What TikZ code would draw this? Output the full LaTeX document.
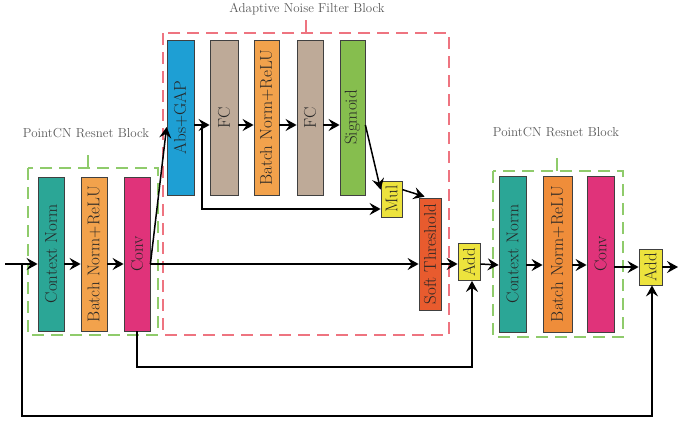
\documentclass[tikz,border=0pt]{standalone}
\usetikzlibrary{arrows.meta,calc}
\definecolor{cteal}{HTML}{2BA696}
\definecolor{corangeA}{HTML}{F2A24C}
\definecolor{corangeB}{HTML}{EF8D3A}
\definecolor{cconv}{HTML}{E0337A}
\definecolor{cblue}{HTML}{1E9FD4}
\definecolor{cfc}{HTML}{BEAA98}
\definecolor{csig}{HTML}{86BE4E}
\definecolor{cyel}{HTML}{EDE33D}
\definecolor{csoft}{HTML}{E85B2E}
\definecolor{gdash}{HTML}{8FCB6B}
\definecolor{rdash}{HTML}{EE7480}
\begin{document}
\begin{tikzpicture}[x=1pt,y=-1pt,
  blk/.style={draw=black!75,line width=0.8pt,inner sep=0pt,text=black!85,font=\fontsize{17}{20}\selectfont},
  tall/.style={minimum height=155pt},
  arr/.style={line width=1.5pt,-{Stealth[length=11pt,width=12pt,inset=4pt]}},
  gbox/.style={color=gdash,line width=1.1pt,dash pattern=on 12pt off 7pt},
  rbox/.style={color=rdash,line width=1.1pt,dash pattern=on 12pt off 7pt},
  gtick/.style={color=gdash,line width=1.1pt},
  rtick/.style={color=rdash,line width=1.1pt},
  lbl/.style={text=black!65,font=\fontsize{13}{15}\selectfont}
]
\useasboundingbox (0,0) rectangle (678,421);

% dashed group boxes
\draw[gbox] (28,168) rectangle (158,335);
\draw[gtick] (88,155) -- (88,168);
\draw[rbox] (163,33) rectangle (449,335);
\draw[rtick] (306,20) -- (306,33);
\draw[gbox] (493,171) rectangle (623,337);
\draw[gtick] (557,158) -- (557,171);

% labels
\node[lbl] (lblL) at (86,133) {PointCN Resnet Block};
\node[lbl] (lblA) at (307,9) {Adaptive Noise Filter Block};
\node[lbl] (lblR) at (556,132) {PointCN Resnet Block};

% left resnet block
\node[blk,fill=cteal,minimum width=26pt,minimum height=154pt] (cn1) at (51,254) {\rotatebox{90}{Context Norm}};
\node[blk,fill=corangeA,minimum width=26pt,minimum height=154pt] (bn1) at (94,254) {\rotatebox{90}{Batch Norm+ReLU}};
\node[blk,fill=cconv,minimum width=26pt,minimum height=154pt] (conv1) at (137,254) {\rotatebox{90}{Conv}};

% adaptive noise filter block
\node[blk,tall,fill=cblue,minimum width=27pt] (abs) at (180.5,117.5) {\rotatebox{90}{Abs+GAP}};
\node[blk,tall,fill=cfc,minimum width=28pt] (fc1) at (224,117.5) {\rotatebox{90}{FC}};
\node[blk,tall,fill=corangeA,minimum width=25pt] (bnA) at (266.5,117.5) {\rotatebox{90}{Batch Norm+ReLU}};
\node[blk,tall,fill=cfc,minimum width=26pt] (fc2) at (310,117.5) {\rotatebox{90}{FC}};
\node[blk,tall,fill=csig,minimum width=25pt] (sig) at (352.5,117.5) {\rotatebox{90}{Sigmoid}};
\node[blk,fill=cyel,minimum width=21pt,minimum height=36pt] (mul) at (391.5,199) {\rotatebox{90}{Mul}};
\node[blk,fill=csoft,minimum width=22pt,minimum height=112pt] (soft) at (430,254) {\rotatebox{90}{Soft Threshold}};
\node[blk,fill=cyel,minimum width=22pt,minimum height=37pt] (add1) at (469,262) {\rotatebox{90}{Add}};

% right resnet block
\node[blk,fill=cteal,minimum width=27pt,minimum height=156pt] (cn2) at (512.5,254) {\rotatebox{90}{Context Norm}};
\node[blk,fill=corangeB,minimum width=29pt,minimum height=156pt] (bn2) at (557.5,254) {\rotatebox{90}{Batch Norm+ReLU}};
\node[blk,fill=cconv,minimum width=27pt,minimum height=156pt] (conv2) at (600.5,254) {\rotatebox{90}{Conv}};
\node[blk,fill=cyel,minimum width=23pt,minimum height=36pt] (add2) at (650.5,267) {\rotatebox{90}{Add}};

% helper coordinates
\coordinate (in) at (5,264);
\coordinate (in2) at (0,265);
\coordinate (yA) at (0,125);
\coordinate (yAbs) at (0,127);
\coordinate (yM) at (0,209);
\coordinate (yC) at (0,367);
\coordinate (bot) at (0,416);
\coordinate (sk1) at (22,264);
\coordinate (out) at (678,267);

% main path
\draw[arr] (in) -- (cn1.west |- in);
\draw[arr] (cn1.east |- in) -- (bn1.west |- in);
\draw[arr] (bn1.east |- in) -- (conv1.west |- in);
\draw[arr] (conv1.east |- in) -- (soft.west |- in);
\draw[arr] (soft.east |- in) -- (add1.west |- in);
\draw[arr] (add1.east |- in) -- (cn2.west |- in2);
\draw[arr] (cn2.east |- in2) -- (bn2.west |- in2);
\draw[arr] (bn2.east |- in2) -- (conv2.west |- in2);
\draw[arr] (conv2.east |- out) -- (add2.west |- out);
\draw[arr] (add2.east |- out) -- (out);

% noise filter branch
\draw[arr] (conv1.east |- in) -- (abs.west |- yAbs);
\draw[arr] (abs.east |- yA) -- (fc1.west |- yA);
\draw[arr] (fc1.east |- yA) -- (bnA.west |- yA);
\draw[arr] (bnA.east |- yA) -- (fc2.west |- yA);
\draw[arr] (fc2.east |- yA) -- (sig.west |- yA);
\coordinate (br) at ($(abs.east |- yA)!0.5!(fc1.west |- yA)$);
\draw[arr] (br) -- (br |- yM) -- (mul.west |- yM);
\draw[arr] (sig.east |- yA) -- ($(mul.north west)+(0,9)$);
\draw[arr] ($(mul.north east)+(0,9)$) -- ($(soft.north west)+(6,-1)$);

% skip connections
\draw[arr] (conv1.south) -- (conv1.south |- yC) -| ($(add1.south)+(3,0)$);
\draw[arr] (sk1) -- (sk1 |- bot) -| ($(add2.south)+(1.5,0)$);
\end{tikzpicture}
\end{document}
